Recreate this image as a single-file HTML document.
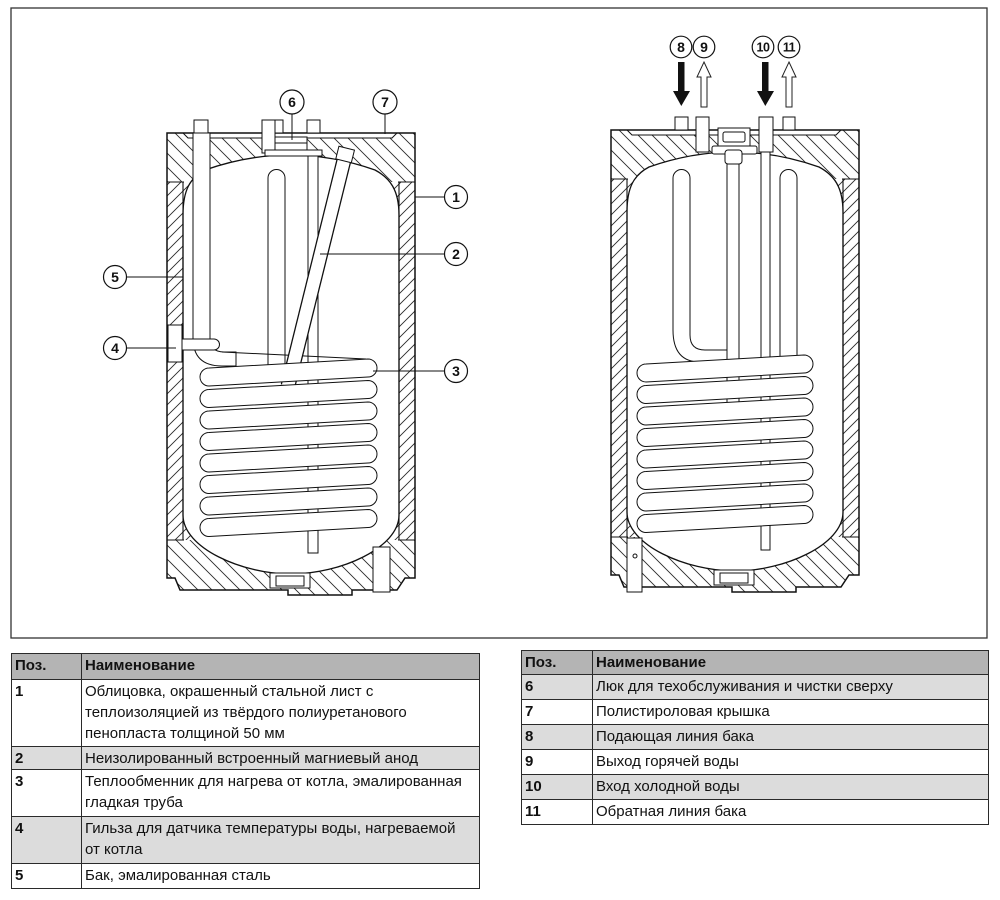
<!DOCTYPE html>
<html><head><meta charset="utf-8">
<style>
html,body{margin:0;padding:0;background:#fff;}
body{width:1000px;height:900px;position:relative;overflow:hidden;font-family:"Liberation Sans","DejaVu Sans",sans-serif;}
svg{position:absolute;left:0;top:0;}
table{position:absolute;border-collapse:collapse;table-layout:fixed;font-size:15px;color:#111;font-family:"Liberation Sans","DejaVu Sans",sans-serif;}
td{border:1px solid #2a2a2a;padding:1px 3px 0 3px;vertical-align:top;line-height:21px;white-space:nowrap;overflow:visible;}
td.n{font-weight:bold;}
tr.h td{background:#b4b4b4;font-weight:bold;}
tr.g td{background:#dcdcdc;}
</style></head>
<body>
<svg width="1000" height="645" viewBox="0 0 1000 645" xmlns="http://www.w3.org/2000/svg">
<defs>
<pattern id="hA" width="14" height="14" patternUnits="userSpaceOnUse"><path d="M0,0L14,14M-2,12L2,16M12,-2L16,2" stroke="#2a2a2a" stroke-width="0.9" fill="none"/></pattern>
<pattern id="hB" width="11" height="11" patternUnits="userSpaceOnUse"><path d="M0,11L11,0M-2,2L2,-2M9,13L13,9" stroke="#2a2a2a" stroke-width="0.9" fill="none"/></pattern>
</defs>
<rect x="11" y="8" width="976" height="630" fill="none" stroke="#333" stroke-width="1.3"/>

<!-- LEFT TANK BODY -->
<g>
<rect x="167" y="133" width="248" height="49" fill="url(#hA)"/>
<rect x="167" y="182" width="248" height="358" fill="url(#hB)"/>
<path d="M167,540H415V578H405L397,590H352V595H288V590H180L175,578H167Z" fill="url(#hA)"/>
<path d="M183,133L188,138H392L397,133Z" fill="#fff" stroke="#111" stroke-width="1"/>
<path d="M183,215C183,190 190,178 205,170Q290,140 375,170C390,178 399,190 399,215V515C399,548 340,574 291,574C242,574 183,548 183,515Z" fill="#fff" stroke="#111" stroke-width="1.3"/>
<path d="M167,133H415V578H405L397,590H352V595H288V590H180L175,578H167Z" fill="none" stroke="#111" stroke-width="1.5"/>
<path d="M167,182H184M398,182H415M183,182V540M399,182V540M167,540H184M398,540H415" fill="none" stroke="#111" stroke-width="1.1"/>
<rect x="270" y="573" width="40" height="15" fill="#fff" stroke="#111"/>
<rect x="276" y="576" width="28" height="10" fill="#fff" stroke="#111"/>
</g>

<!-- RIGHT TANK BODY -->
<g transform="translate(444,-3)">
<rect x="167" y="133" width="248" height="49" fill="url(#hA)"/>
<rect x="167" y="182" width="248" height="358" fill="url(#hB)"/>
<path d="M167,540H415V578H405L397,590H352V595H288V590H180L175,578H167Z" fill="url(#hA)"/>
<path d="M183,133L188,138H392L397,133Z" fill="#fff" stroke="#111" stroke-width="1"/>
<path d="M183,215C183,190 190,178 205,170Q290,140 375,170C390,178 399,190 399,215V515C399,548 340,574 291,574C242,574 183,548 183,515Z" fill="#fff" stroke="#111" stroke-width="1.3"/>
<path d="M167,133H415V578H405L397,590H352V595H288V590H180L175,578H167Z" fill="none" stroke="#111" stroke-width="1.5"/>
<path d="M167,182H184M398,182H415M183,182V540M399,182V540M167,540H184M398,540H415" fill="none" stroke="#111" stroke-width="1.1"/>
<rect x="270" y="573" width="40" height="15" fill="#fff" stroke="#111"/>
<rect x="276" y="576" width="28" height="10" fill="#fff" stroke="#111"/>
</g>

<!-- LEFT TANK INTERIOR -->
<g stroke="#111" stroke-width="1" fill="#fff">
<rect x="308" y="150" width="10" height="403"/>
<path d="M268,368V178A8.5,8.5 0 0 1 285,178V368"/>
<rect x="194" y="120" width="14" height="13"/>
<path d="M193,133H210V338Q210,352 224,352L236,352L236,366L222,366Q193,366 193,338Z"/>
<path d="M222,352L366,359" fill="none"/>
<rect x="262" y="120" width="13" height="33"/>
<rect x="275" y="120" width="8" height="13"/>
<rect x="307" y="120" width="13" height="13"/>
<rect x="275" y="137" width="32" height="13"/>
<path d="M275,143H307" fill="none"/>
<rect x="265" y="150" width="57" height="6"/>
<line x1="344" y1="160" x2="288" y2="386" stroke="#111" stroke-width="15"/>
<line x1="344" y1="160" x2="288" y2="386" stroke="#fff" stroke-width="12.4"/>
<rect x="-8" y="-7" width="16" height="13" transform="translate(345,155) rotate(14)"/>
<path d="M209,368L368,359A9,9 0 0 1 368,377L209,386A9,9 0 0 1 209,368Z"/>
<path d="M209,389.5L368,380.5A9,9 0 0 1 368,398.5L209,407.5A9,9 0 0 1 209,389.5Z"/>
<path d="M209,411L368,402A9,9 0 0 1 368,420L209,429A9,9 0 0 1 209,411Z"/>
<path d="M209,432.5L368,423.5A9,9 0 0 1 368,441.5L209,450.5A9,9 0 0 1 209,432.5Z"/>
<path d="M209,454L368,445A9,9 0 0 1 368,463L209,472A9,9 0 0 1 209,454Z"/>
<path d="M209,475.5L368,466.5A9,9 0 0 1 368,484.5L209,493.5A9,9 0 0 1 209,475.5Z"/>
<path d="M209,497L368,488A9,9 0 0 1 368,506L209,515A9,9 0 0 1 209,497Z"/>
<path d="M209,518.5L368,509.5A9,9 0 0 1 368,527.5L209,536.5A9,9 0 0 1 209,518.5Z"/>
<rect x="168" y="325" width="14" height="37"/>
<path d="M182,339H214A5.5,5.5 0 0 1 214,350H182Z"/>
<rect x="373" y="547" width="17" height="45"/>
</g>

<!-- RIGHT TANK INTERIOR -->
<g stroke="#111" stroke-width="1" fill="#fff">
<rect x="675" y="117" width="13" height="13"/>
<rect x="783" y="117" width="12" height="13"/>
<rect x="696" y="117" width="13" height="35"/>
<rect x="761" y="150" width="9" height="400"/>
<rect x="759" y="117" width="14" height="35"/>
<path d="M673,178A8.5,8.5 0 0 1 690,178V335Q690,350 705,350H727V362H700Q673,362 673,330Z"/>
<path d="M780,368V178A8.5,8.5 0 0 1 797,178V368"/>
<rect x="727" y="160" width="12" height="245"/>
<rect x="718" y="128" width="32" height="18"/>
<rect x="723" y="132" width="22" height="10" rx="2"/>
<rect x="712" y="146" width="45" height="8" rx="2"/>
<rect x="725" y="150" width="17" height="14" rx="3"/>
<path d="M646,364L804,355A9,9 0 0 1 804,373L646,382A9,9 0 0 1 646,364Z"/>
<path d="M646,385.5L804,376.5A9,9 0 0 1 804,394.5L646,403.5A9,9 0 0 1 646,385.5Z"/>
<path d="M646,407L804,398A9,9 0 0 1 804,416L646,425A9,9 0 0 1 646,407Z"/>
<path d="M646,428.5L804,419.5A9,9 0 0 1 804,437.5L646,446.5A9,9 0 0 1 646,428.5Z"/>
<path d="M646,450L804,441A9,9 0 0 1 804,459L646,468A9,9 0 0 1 646,450Z"/>
<path d="M646,471.5L804,462.5A9,9 0 0 1 804,480.5L646,489.5A9,9 0 0 1 646,471.5Z"/>
<path d="M646,493L804,484A9,9 0 0 1 804,502L646,511A9,9 0 0 1 646,493Z"/>
<path d="M646,514.5L804,505.5A9,9 0 0 1 804,523.5L646,532.5A9,9 0 0 1 646,514.5Z"/>
<rect x="627" y="538" width="15" height="54"/>
<circle cx="635" cy="556" r="2"/>
</g>

<!-- ARROWS -->
<rect x="678" y="62" width="6.5" height="30" fill="#111"/>
<polygon points="673,91 690,91 681.3,106" fill="#111"/>
<polygon points="704,62 711,77 707,77 707,107 701,107 701,77 697,77" fill="#fff" stroke="#222" stroke-width="1"/>
<rect x="762" y="62" width="6.5" height="30" fill="#111"/>
<polygon points="757,91 774,91 765.3,106" fill="#111"/>
<polygon points="789,62 796,77 792,77 792,107 786,107 786,77 782,77" fill="#fff" stroke="#222" stroke-width="1"/>

<!-- LEADERS -->
<g stroke="#111" stroke-width="1" fill="none">
<path d="M292,114V140M385,114V134M415,197H444.5M320,254H444.5M373,371H444.5M127,348H176M127,277H183"/>
</g>

<!-- LABEL CIRCLES -->
<g stroke="#111" stroke-width="1.2" fill="#fff">
<circle cx="292" cy="102" r="12"/>
<circle cx="385" cy="102" r="12"/>
<circle cx="456" cy="197" r="11.5"/>
<circle cx="456" cy="254" r="11.5"/>
<circle cx="456" cy="371" r="11.5"/>
<circle cx="115" cy="348" r="11.5"/>
<circle cx="115" cy="277" r="11.5"/>
<circle cx="681" cy="47" r="10.8"/>
<circle cx="704" cy="47" r="10.8"/>
<circle cx="763" cy="47" r="10.8"/>
<circle cx="789" cy="47" r="10.8"/>
</g>
<g font-family="Liberation Sans, DejaVu Sans, sans-serif" font-weight="bold" font-size="14" fill="#111" text-anchor="middle">
<text x="292" y="107">6</text>
<text x="385" y="107">7</text>
<text x="456" y="202">1</text>
<text x="456" y="259">2</text>
<text x="456" y="376">3</text>
<text x="115" y="353">4</text>
<text x="115" y="282">5</text>
<text x="681" y="52">8</text>
<text x="704" y="52">9</text>
<text x="763" y="51.5" font-size="12.5" letter-spacing="-0.5">10</text>
<text x="789" y="51.5" font-size="12.5" letter-spacing="-0.5">11</text>
</g>
</svg>

<table style="left:11px;top:653px;width:468px">
<colgroup><col style="width:70px"><col style="width:398px"></colgroup>
<tr class="h" style="height:26px"><td>Поз.</td><td>Наименование</td></tr>
<tr style="height:67px"><td class="n">1</td><td>Облицовка, окрашенный стальной лист с<br>теплоизоляцией из твёрдого полиуретанового<br>пенопласта толщиной 50 мм</td></tr>
<tr class="g" style="height:22px"><td class="n">2</td><td>Неизолированный встроенный магниевый анод</td></tr>
<tr style="height:47px"><td class="n">3</td><td>Теплообменник для нагрева от котла, эмалированная<br>гладкая труба</td></tr>
<tr class="g" style="height:47px"><td class="n">4</td><td>Гильза для датчика температуры воды, нагреваемой<br>от котла</td></tr>
<tr style="height:25px"><td class="n">5</td><td>Бак, эмалированная сталь</td></tr>
</table>

<table style="left:521px;top:650px;width:467px">
<colgroup><col style="width:71px"><col style="width:396px"></colgroup>
<tr class="h" style="height:24px"><td>Поз.</td><td>Наименование</td></tr>
<tr class="g" style="height:25px"><td class="n">6</td><td>Люк для техобслуживания и чистки сверху</td></tr>
<tr style="height:25px"><td class="n">7</td><td>Полистироловая крышка</td></tr>
<tr class="g" style="height:25px"><td class="n">8</td><td>Подающая линия бака</td></tr>
<tr style="height:25px"><td class="n">9</td><td>Выход горячей воды</td></tr>
<tr class="g" style="height:25px"><td class="n">10</td><td>Вход холодной воды</td></tr>
<tr style="height:25px"><td class="n">11</td><td>Обратная линия бака</td></tr>
</table>
</body></html>
